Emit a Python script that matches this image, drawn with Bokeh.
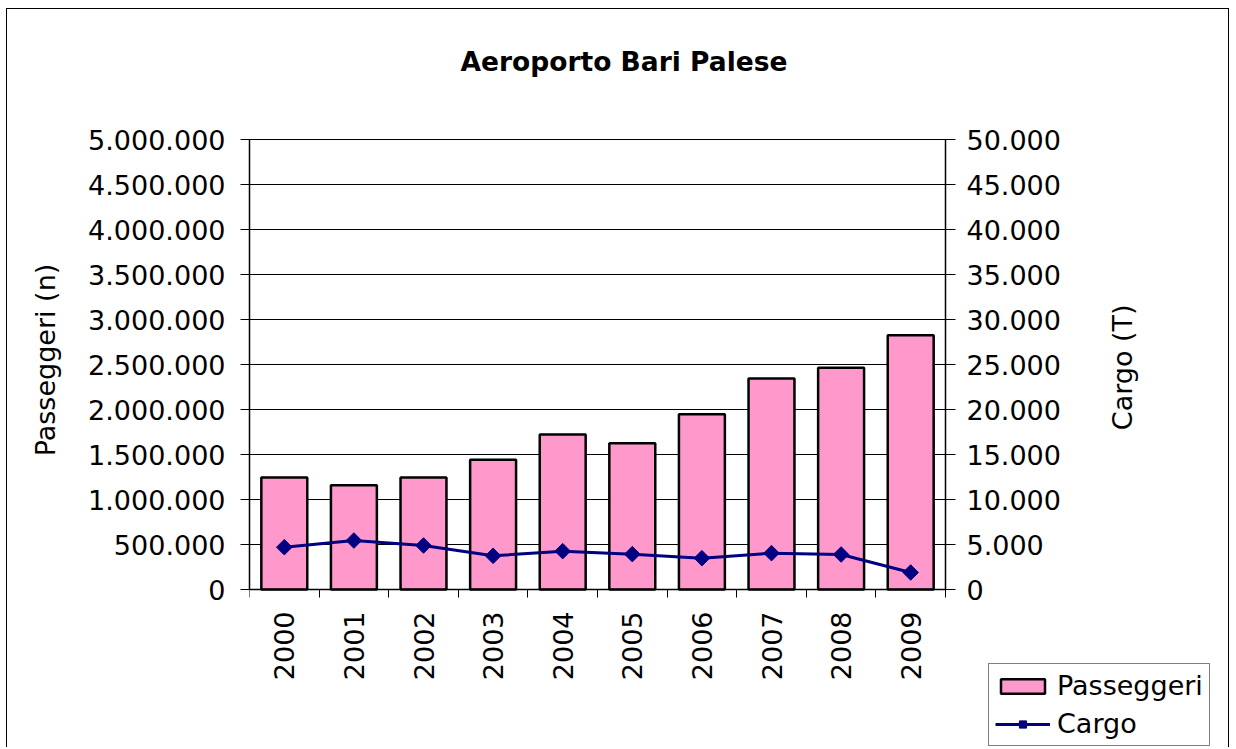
import math
from bokeh.plotting import figure
from bokeh.models import Range1d, LinearAxis, FixedTicker, Legend, LegendItem, Title
from bokeh.embed import file_html
from bokeh.resources import INLINE

# ---- data ----
years = ["2000", "2001", "2002", "2003", "2004", "2005", "2006", "2007", "2008", "2009"]
passeggeri = [1245000, 1159000, 1244000, 1441000, 1722000, 1626000, 1948000, 2344000, 2463000, 2826000]
cargo = [4700, 5440, 4890, 3740, 4260, 3930, 3480, 4040, 3890, 1890]
pass_ticks = [0, 500000, 1000000, 1500000, 2000000, 2500000, 3000000, 3500000, 4000000, 4500000, 5000000]
cargo_ticks = [0, 5000, 10000, 15000, 20000, 25000, 30000, 35000, 40000, 45000, 50000]

FONT = "DejaVu Sans"
FS = "27px"

# ---- layout (pixels) ----
W, H = 1223, 739
LEFT, TOP = 242, 114
GAP_TOP = 16                       # frame top -> top gridline
PLOT_W, PLOT_H = 696, 450          # visible plot area inside the (larger) frame
FRAME_W, FRAME_H = W - LEFT, H - TOP


def it_fmt(v):
    return f"{v:,}".replace(",", ".")


n = len(years)
xc = [i + 0.5 for i in range(n)]
bounds = [float(i) for i in range(n + 1)]

# the frame extends right, up and down past the plot area so that the legend
# and the outer tick labels are not clipped
x_end = n * FRAME_W / PLOT_W
below_px = FRAME_H - PLOT_H - GAP_TOP
p_rng = (-pass_ticks[-1] * below_px / PLOT_H, pass_ticks[-1] * (1 + GAP_TOP / PLOT_H))
c_rng = (-cargo_ticks[-1] * below_px / PLOT_H, cargo_ticks[-1] * (1 + GAP_TOP / PLOT_H))

p = figure(width=W, height=H, x_range=Range1d(0, x_end),
           y_range=Range1d(*p_rng),
           output_backend="svg", toolbar_location=None,
           min_border_left=LEFT, min_border_right=0,
           min_border_top=TOP, min_border_bottom=0)
p.styles = {"margin-left": "6px", "margin-top": "8px",
            "border-style": "solid", "border-color": "black",
            "border-width": "1.5px 1.5px 0px 1.5px"}
p.outline_line_color = None
p.background_fill_color = "white"
p.border_fill_color = "white"

# title (spacer first = closest to the frame, then the real title)
p.add_layout(Title(text=" ", text_font_size="1px", standoff=44), "above")
p.add_layout(Title(text="Aeroporto Bari Palese", text_font=FONT, text_font_size="26.5px",
                   text_font_style="bold", text_color="black", align="left",
                   offset=211, standoff=0), "above")

# grids
p.xgrid.visible = False
p.ygrid.ticker = FixedTicker(ticks=pass_ticks)
p.ygrid.grid_line_color = "black"
p.ygrid.grid_line_width = 1
p.ygrid.bounds = (pass_ticks[0], pass_ticks[-1])
p.ygrid.cross_bounds = (0, n)

# left axis
ly = p.yaxis[0]
ly.ticker = FixedTicker(ticks=pass_ticks)
ly.bounds = (pass_ticks[0], pass_ticks[-1])
ly.major_label_overrides = {v: it_fmt(v) for v in pass_ticks}
ly.minor_tick_line_color = None
ly.major_tick_in = 8
ly.major_tick_out = 9
ly.major_label_standoff = 15

# left title, read bottom-to-top: single label of a bare axis (anchored at its top end)
pass_title_top = 3620000
ll = LinearAxis(ticker=FixedTicker(ticks=[pass_title_top]),
                major_label_overrides={pass_title_top: "Passeggeri (n)"},
                major_label_orientation=math.pi / 2, major_label_standoff=40,
                axis_line_color=None, major_tick_line_color=None,
                minor_tick_line_color=None,
                major_tick_in=0, major_tick_out=0, minor_tick_in=0, minor_tick_out=0)
p.add_layout(ll, "left")

# right axis, pinned to the right edge of the plot area
p.extra_y_ranges = {"cargo": Range1d(*c_rng)}
ry = LinearAxis(y_range_name="cargo", fixed_location=n,
                bounds=(cargo_ticks[0], cargo_ticks[-1]))
ry.ticker = FixedTicker(ticks=cargo_ticks)
ry.major_label_overrides = {v: it_fmt(v) for v in cargo_ticks}
ry.minor_tick_line_color = None
ry.major_tick_in = 8
ry.major_tick_out = 10
ry.major_label_standoff = 11
p.add_layout(ry, "right")

# right title, read bottom-to-top (anchored at its bottom end)
cargo_title_start = 17700
rl = LinearAxis(y_range_name="cargo", fixed_location=n,
                ticker=FixedTicker(ticks=[cargo_title_start]),
                major_label_overrides={cargo_title_start: "Cargo (T)"},
                major_label_orientation=math.pi / 2, major_label_standoff=177,
                axis_line_color=None, major_tick_line_color=None,
                minor_tick_line_color=None,
                major_tick_in=0, major_tick_out=0, minor_tick_in=0, minor_tick_out=0)
p.add_layout(rl, "right")

for ax in (ly, ll, ry, rl):
    ax.major_label_text_font = FONT
    ax.major_label_text_font_size = FS
    ax.major_label_text_color = "black"
for ax in (ly, ry):
    ax.axis_line_color = "black"
    ax.axis_line_width = 1.5
    ax.major_tick_line_color = "black"
    ax.major_tick_line_width = 1

# bottom axis, pinned at y = 0
bx = p.xaxis[0]
bx.fixed_location = 0
bx.bounds = (0, n)
bx.ticker = FixedTicker(ticks=xc, minor_ticks=bounds)
bx.major_label_overrides = {x: y for x, y in zip(xc, years)}
bx.major_label_orientation = math.pi / 2
bx.major_tick_in = 0
bx.major_tick_out = 0
bx.minor_tick_in = 0
bx.minor_tick_out = 8
bx.minor_tick_line_color = "black"
bx.axis_line_color = "black"
bx.axis_line_width = 1.5
bx.major_label_standoff = 14
bx.major_label_text_font = FONT
bx.major_label_text_font_size = FS
bx.major_label_text_color = "black"

# glyphs
bars = p.vbar(x=xc, top=passeggeri, width=0.66, bottom=0,
              fill_color="#FF99CC", line_color="black", line_width=2.5)
ln = p.line(x=xc, y=cargo, y_range_name="cargo", line_color="#000080", line_width=3)
mk = p.scatter(x=xc, y=cargo, y_range_name="cargo", marker="square", angle=math.pi / 4,
               size=11, fill_color="#000080", line_color="#000080")

legend = Legend(items=[LegendItem(label="Passeggeri", renderers=[bars]),
                       LegendItem(label="Cargo", renderers=[ln, mk])],
                location=(739, 2), orientation="vertical",
                label_text_font=FONT, label_text_font_size=FS, label_text_color="black",
                glyph_width=55, glyph_height=18, label_standoff=7,
                padding=6, spacing=7, margin=0,
                border_line_color="black", border_line_width=1,
                background_fill_color="white", background_fill_alpha=1)
p.add_layout(legend)

open("out.html", "w").write(file_html(p, INLINE))
